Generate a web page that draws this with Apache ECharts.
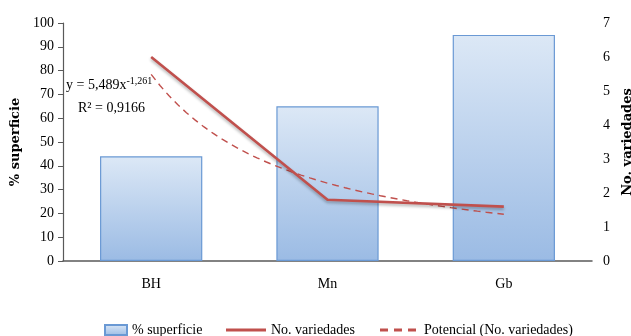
<!DOCTYPE html>
<html>
<head>
<meta charset="utf-8">
<script src="https://cdn.jsdelivr.net/npm/echarts@6/dist/echarts.min.js"></script>
<style>
  html, body { margin: 0; padding: 0; background: #fff; }
  #chart { width: 631px; height: 336px; }
</style>
</head>
<body>
<div id="chart"></div>
<script>
// Zones and their values
const categories = ['BH', 'Mn', 'Gb'];
const superficie = [44, 65, 95];          // % superficie (left axis)
const variedades = [6, 1.8, 1.6];         // No. variedades (right axis)
const leftTicks = { min: 0, max: 100, interval: 10 };
const rightTicks = { min: 0, max: 7, interval: 1 };

// Power trend fitted to No. variedades: y = a * x^b
const trendA = 5.489;
const trendB = -1.261;
const trendR2 = '0,9166';

const trendPoints = [];
for (let i = 0; i <= 40; i++) {
  const x = 1 + i * 0.05;
  trendPoints.push([x, trendA * Math.pow(x, trendB)]);
}

const serif = '"Liberation Serif", "DejaVu Serif", serif';
const nameFont = '"DejaVu Serif", "Liberation Serif", serif';
const red = '#c0504d';

// Legend glyphs: a solid stroke and a dashed stroke
const solidIcon = 'path://M0,0h40v3h-40z';
const dashedIcon = 'path://M0,0h8v3h-8z M14,0h8v3h-8z M28,0h8v3h-8z';

const chart = echarts.init(document.getElementById('chart'), null, { renderer: 'canvas' });

chart.setOption({
  animation: false,
  textStyle: { fontFamily: serif, color: '#000' },
  grid: { left: 63, right: 39, top: 23, bottom: 75, outerBoundsMode: 'none', containLabel: false },
  xAxis: [
    {
      type: 'category',
      data: categories,
      axisLine: { lineStyle: { color: '#595959', width: 1.5 } },
      axisTick: { show: false },
      axisLabel: { fontFamily: serif, fontSize: 14, color: '#000', margin: 16 }
    },
    {
      type: 'value',
      min: 0.5,
      max: 3.5,
      show: false
    }
  ],
  yAxis: [
    {
      type: 'value',
      min: leftTicks.min,
      max: leftTicks.max,
      interval: leftTicks.interval,
      name: '% superficie',
      nameLocation: 'middle',
      nameRotate: 90,
      nameGap: 34,
      nameTextStyle: { fontFamily: nameFont, fontSize: 13, fontWeight: 'bold', color: '#000' },
      axisLine: { show: true, lineStyle: { color: '#595959', width: 1.2 } },
      axisTick: { show: true, inside: false, length: 5, lineStyle: { color: '#595959' } },
      splitLine: { show: false },
      axisLabel: { fontFamily: serif, fontSize: 14, color: '#000', margin: 9 }
    },
    {
      type: 'value',
      min: rightTicks.min,
      max: rightTicks.max,
      interval: rightTicks.interval,
      position: 'right',
      name: 'No. variedades',
      nameLocation: 'middle',
      nameRotate: 90,
      nameGap: 28,
      nameTextStyle: { fontFamily: nameFont, fontSize: 13, fontWeight: 'bold', color: '#000' },
      axisLine: { show: false },
      axisTick: { show: false },
      splitLine: { show: false },
      axisLabel: { fontFamily: serif, fontSize: 14, color: '#000', margin: 11 }
    }
  ],
  legend: [
    {
      data: ['% superficie'],
      left: 99, top: 318,
      icon: 'rect',
      itemWidth: 22, itemHeight: 10,
      itemGap: 6,
      textStyle: { fontFamily: serif, fontSize: 14, color: '#000' }
    },
    {
      data: [{ name: 'No. variedades', icon: solidIcon }],
      left: 221, top: 318,
      itemWidth: 40, itemHeight: 3,
      textStyle: { fontFamily: serif, fontSize: 14, color: '#000' }
    },
    {
      data: [{ name: 'Potencial (No. variedades)', icon: dashedIcon }],
      left: 375, top: 318,
      itemWidth: 36, itemHeight: 3,
      textStyle: { fontFamily: serif, fontSize: 14, color: '#000', padding: [0, 0, 0, 3] }
    }
  ],
  series: [
    {
      name: '% superficie',
      type: 'bar',
      data: superficie,
      xAxisIndex: 0,
      yAxisIndex: 0,
      barCategoryGap: '42%',
      itemStyle: {
        color: new echarts.graphic.LinearGradient(0, 0, 0, 1, [
          { offset: 0, color: '#dce8f6' },
          { offset: 1, color: '#9bbbe4' }
        ]),
        borderColor: '#6a99d4',
        borderWidth: 1.2
      }
    },
    {
      name: 'No. variedades',
      type: 'line',
      data: variedades,
      xAxisIndex: 0,
      yAxisIndex: 1,
      symbol: 'none',
      z: 5,
      lineStyle: {
        color: red,
        width: 2.6,
        shadowColor: 'rgba(0,0,0,0.3)',
        shadowBlur: 3,
        shadowOffsetY: 2
      },
      itemStyle: { color: red }
    },
    {
      name: 'Potencial (No. variedades)',
      type: 'line',
      data: trendPoints,
      xAxisIndex: 1,
      yAxisIndex: 1,
      symbol: 'none',
      z: 4,
      lineStyle: { color: red, width: 1.4, type: [7, 5] },
      itemStyle: { color: red }
    }
  ],
  graphic: [
    {
      type: 'text',
      left: 66, top: 76,
      style: {
        rich: {
          b: { fontFamily: serif, fontSize: 14, color: '#000' },
          s: { fontFamily: serif, fontSize: 10, color: '#000', verticalAlign: 'top', padding: [0, 0, 8, 0] }
        },
        text: '{b|y = ' + String(trendA).replace('.', ',') + 'x}{s|' + String(trendB).replace('.', ',') + '}'
      }
    },
    {
      type: 'text',
      left: 78, top: 101,
      style: {
        fontFamily: serif, fontSize: 14, fill: '#000',
        text: 'R² = ' + trendR2
      }
    }
  ]
});
</script>
</body>
</html>
